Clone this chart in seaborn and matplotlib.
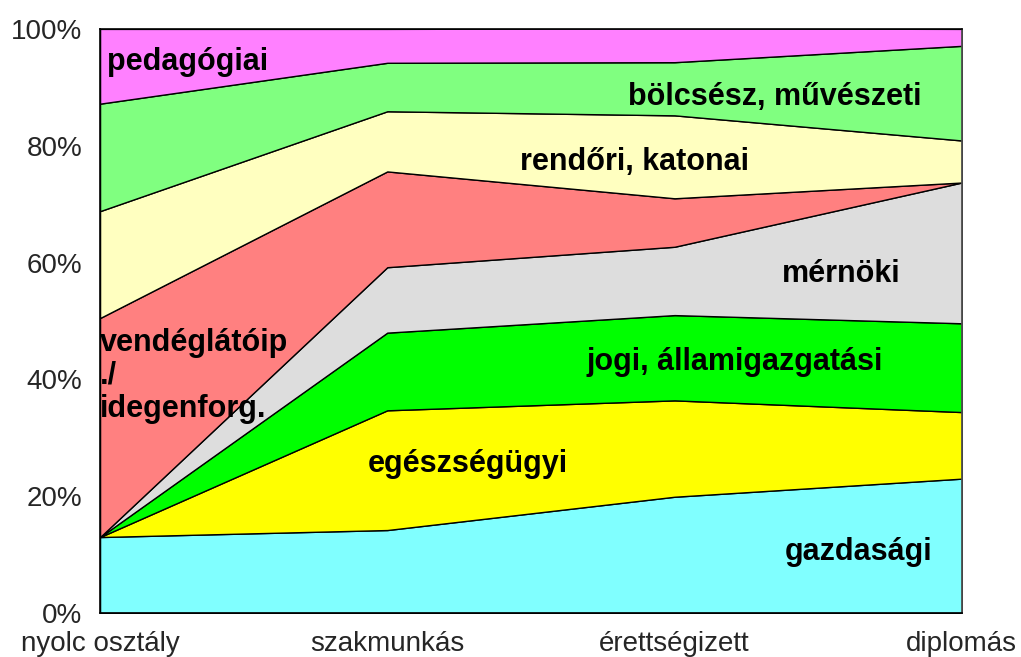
import matplotlib
matplotlib.use("Agg")
import matplotlib.pyplot as plt
import seaborn as sns
from matplotlib.ticker import PercentFormatter

sns.set_theme(style="white")
plt.rcParams['font.family'] = ['Liberation Sans', 'DejaVu Sans']

# adatok (százalékos megoszlás)
kategoriak = ['nyolc osztály', 'szakmunkás', 'érettségizett', 'diplomás']
gazdasagi = [13.0, 14.2, 19.9, 23.0]
egeszsegugyi = [0.0, 20.5, 16.5, 11.4]
jogi = [0.0, 13.3, 14.6, 15.2]
mernoki = [0.0, 11.2, 11.7, 24.1]
vendeglato = [37.5, 16.4, 8.3, 0.0]
rendori = [18.3, 10.3, 14.2, 7.2]
bolcsesz = [18.4, 8.3, 9.1, 16.2]
pedagogiai = [12.8, 5.8, 5.8, 2.9]

sorozatok = [gazdasagi, egeszsegugyi, jogi, mernoki, vendeglato, rendori, bolcsesz, pedagogiai]
szinek = ['#80FFFF', '#FFFF00', '#00FF00', '#DDDDDD', '#FF8080', '#FFFFC0', '#80FF80', '#FF80FF']

fig = plt.figure(figsize=(10.21, 6.57), dpi=100)
ax = fig.add_axes([0.098, 0.067, 0.844, 0.889])

x = range(len(kategoriak))
ax.stackplot(x, *sorozatok, colors=szinek, edgecolor='black', linewidth=1.0)

ax.set_xlim(0, 3)
ax.set_ylim(0, 100)
ax.set_xticks(list(x))
ax.set_xticklabels(kategoriak, fontsize=20)
ax.set_yticks([0, 20, 40, 60, 80, 100])
ax.yaxis.set_major_formatter(PercentFormatter(decimals=0))
ax.tick_params(axis='y', labelsize=20, pad=7)
ax.tick_params(axis='x', pad=7)
for s in ax.spines.values():
    s.set_color('black')
    s.set_linewidth(1.2)
ax.spines['right'].set_color('#555555')

# feliratok a sávokon
cimke = dict(fontsize=22, fontweight='bold', color='black')
ax.text(0.024, 94.3, 'pedagógiai', ha='left', va='center', **cimke)
ax.text(2.35, 88.4, 'bölcsész, művészeti', ha='center', va='center', **cimke)
ax.text(1.86, 77.2, 'rendőri, katonai', ha='center', va='center', **cimke)
ax.text(2.58, 58.0, 'mérnöki', ha='center', va='center', **cimke)
ax.text(0.0, 40.6, 'vendéglátóip\n./\nidegenforg.', ha='left', va='center', linespacing=1.12, **cimke)
ax.text(2.21, 43.0, 'jogi, államigazgatási', ha='center', va='center', **cimke)
ax.text(1.28, 25.5, 'egészségügyi', ha='center', va='center', **cimke)
ax.text(2.64, 10.4, 'gazdasági', ha='center', va='center', **cimke)

fig.savefig('out.png', dpi=100)
